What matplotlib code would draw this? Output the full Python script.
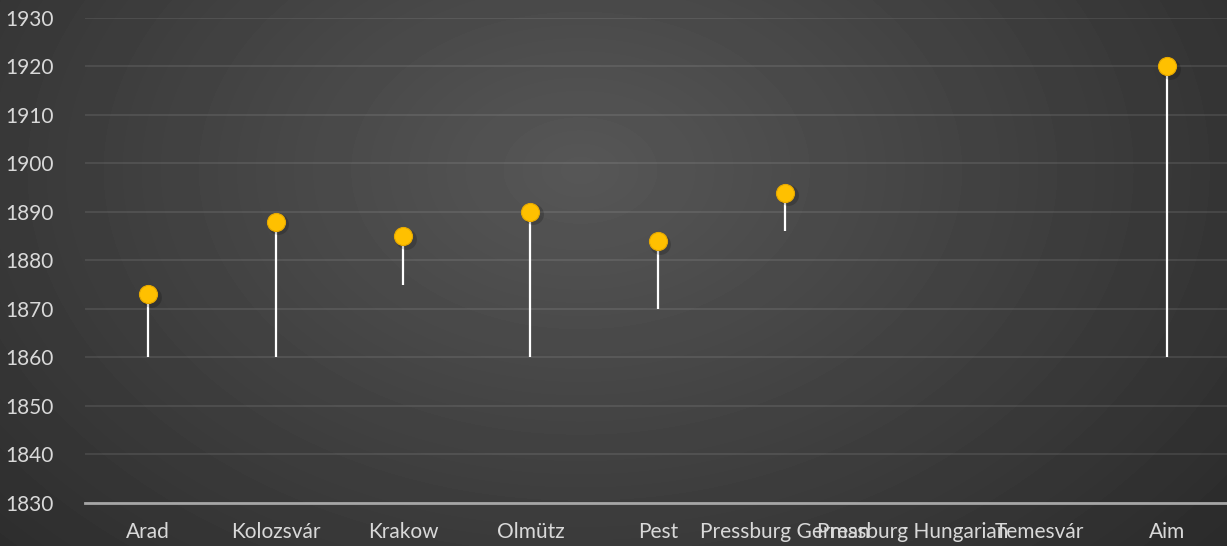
import numpy as np
import matplotlib.pyplot as plt

# categories and values
cities = ["Arad", "Kolozsvár", "Krakow", "Olmütz", "Pest",
          "Pressburg German", "Pressburg Hungarian", "Temesvár", "Aim"]
start_year = [1860, 1860, 1875, 1860, 1870, 1886, np.nan, np.nan, 1860]
end_year = [1873, 1888, 1885, 1890, 1884, 1894, np.nan, np.nan, 1920]

plt.rcParams['font.family'] = ['Lato', 'DejaVu Sans']

fig = plt.figure(figsize=(12.27, 5.46), dpi=100)

# radial gradient background
bg = fig.add_axes([0, 0, 1, 1])
yy, xx = np.mgrid[0:546, 0:1227]
r = np.sqrt(((xx - 580) / 780.0) ** 2 + ((yy - 170) / 540.0) ** 2)
shade = np.clip(0.34 - 0.16 * r, 0.16, 0.34)
bg.imshow(shade, cmap="gray", vmin=0, vmax=1, aspect="auto", extent=[0, 1, 0, 1])
bg.axis("off")

ax = fig.add_axes([84.5 / 1227, 1 - 503 / 546, (1231 - 84.5) / 1227, (503 - 18) / 546])
ax.patch.set_alpha(0)

x = np.arange(len(cities))
for xi, s, e in zip(x, start_year, end_year):
    if np.isnan(e):
        continue
    ax.plot([xi, xi], [s, e], color="white", lw=1.6, zorder=3, solid_capstyle="butt")
    # soft shadow under the marker
    ax.plot(xi + 0.02, e - 0.5, "o", ms=15, color="black", alpha=0.18, zorder=3.5, mec="none")
    ax.plot(xi, e, "o", ms=13, color="#ffc000", mec="#e6a800", mew=0.8, zorder=4)

ax.set_xlim(-0.5, len(cities) - 0.5)
ax.set_ylim(1830, 1930)
ax.set_yticks(np.arange(1830, 1931, 10))
ax.set_xticks(x)
ax.set_xticklabels(cities)
ax.grid(axis="y", color="white", alpha=0.09, lw=1.5)
ax.set_axisbelow(True)

for side in ["top", "right", "left"]:
    ax.spines[side].set_visible(False)
ax.spines["bottom"].set_color("#a6a6a6")
ax.spines["bottom"].set_linewidth(2)
ax.tick_params(axis="both", length=0, colors="#d9d9d9", labelsize=15)
ax.tick_params(axis="x", pad=14)
ax.tick_params(axis="y", pad=22)

fig.savefig("out.png", dpi=100)
